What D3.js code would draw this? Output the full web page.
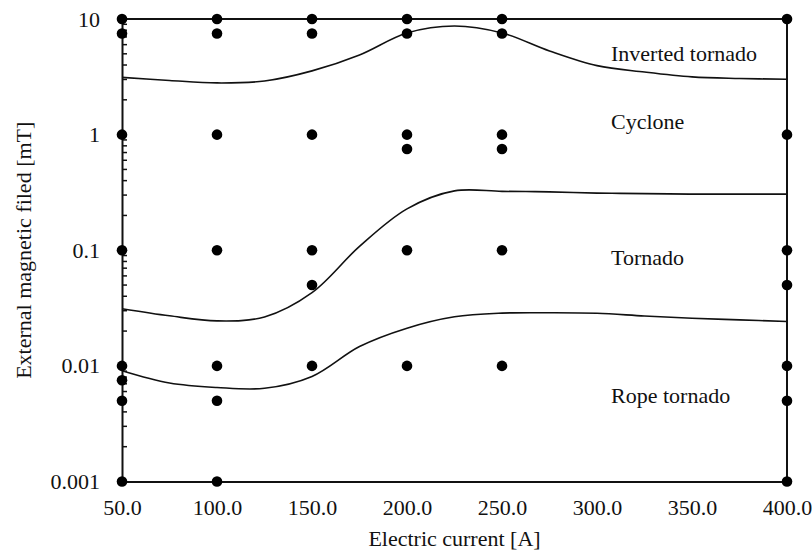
<!DOCTYPE html>
<html>
<head>
<meta charset="utf-8">
<script src="https://cdn.jsdelivr.net/npm/d3@7/dist/d3.min.js"></script>
<style>
  html, body { margin: 0; padding: 0; background: #fff; }
  svg { display: block; }
</style>
</head>
<body>
<svg id="chart" width="812" height="552"></svg>
<script>
// Electric current levels (A) used in the experiments
const currents = [50, 100, 150, 200, 250, 400];
const xTickValues = [50, 100, 150, 200, 250, 300, 350, 400];
const yTickValues = [0.001, 0.01, 0.1, 1, 10];

// Observed external magnetic field settings (mT) at each current
const fieldAt50 = [10, 7.5, 1, 0.1, 0.01, 0.0075, 0.005, 0.001];
const fieldAt100 = [10, 7.5, 1, 0.1, 0.01, 0.005, 0.001];
const fieldAt150 = [10, 7.5, 1, 0.1, 0.05, 0.01];
const fieldAt200 = [10, 7.5, 1, 0.75, 0.1, 0.01];
const fieldAt250 = [10, 7.5, 1, 0.75, 0.1, 0.01];
const fieldAt400 = [10, 1, 0.1, 0.05, 0.01, 0.005, 0.001];

// Regime boundaries sampled along the current axis
const boundaryCurrent = [50, 75, 100, 125, 150, 175, 200, 225, 250, 275, 300, 325, 350, 375, 400];
const invertedCycloneBoundary = [3.13, 2.94, 2.80, 2.91, 3.56, 4.89, 7.57, 8.7, 7.57, 5.29, 3.95, 3.48, 3.16, 3.06, 3.01];
const cycloneTornadoBoundary = [0.0312, 0.0271, 0.0245, 0.0265, 0.043, 0.108, 0.228, 0.326, 0.323, 0.32, 0.312, 0.309, 0.306, 0.306, 0.306];
const tornadoRopeBoundary = [0.00907, 0.0071, 0.0065, 0.0064, 0.0081, 0.0147, 0.0212, 0.0266, 0.0286, 0.0288, 0.0285, 0.027, 0.0258, 0.025, 0.0242];

// Regime labels
const regimeNames = ["Inverted tornado", "Cyclone", "Tornado", "Rope tornado"];
const regimeFields = [4.98, 1.28, 0.086, 0.00553];

const serif = '"Liberation Serif", "Times New Roman", Tinos, serif';
const fontSize = 22;
const ink = "#111";

const svg = d3.select("#chart");
const plotLeft = 122, plotRight = 787, plotTop = 19, plotBottom = 481.5;

const x = d3.scaleLinear().domain([50, 400]).range([plotLeft, plotRight]);
const y = d3.scaleLog().domain([0.001, 10]).range([plotBottom, plotTop]);

// Frame (top and right edges)
const frame = svg.append("g");
frame.append("line").attr("x1", plotLeft).attr("x2", plotRight).attr("y1", plotTop).attr("y2", plotTop);
frame.append("line").attr("x1", plotRight).attr("x2", plotRight).attr("y1", plotTop).attr("y2", plotBottom);
frame.selectAll("line").attr("stroke", ink).attr("stroke-width", 2);

// Y axis: log scale with inward minor ticks
const minorTicks = y.ticks().filter(v => yTickValues.indexOf(v) < 0);
const yAxis = d3.axisLeft(y).tickValues(yTickValues).tickFormat(d3.format("~g")).tickSize(0).tickPadding(22);
const yg = svg.append("g").attr("transform", `translate(${plotLeft},0)`).call(yAxis);
yg.attr("font-family", serif).attr("font-size", fontSize);
yg.select(".domain").attr("stroke", ink).attr("stroke-width", 2);
yg.selectAll("text").attr("fill", ink);
yg.selectAll(".minor").data(minorTicks).join("line")
  .attr("class", "minor")
  .attr("x1", 0).attr("x2", 5)
  .attr("y1", d => y(d)).attr("y2", d => y(d))
  .attr("stroke", ink).attr("stroke-width", 1.5);

// X axis without tick marks
const xAxis = d3.axisBottom(x).tickValues(xTickValues).tickFormat(d3.format(".1f")).tickSize(0).tickPadding(18);
const xg = svg.append("g").attr("transform", `translate(0,${plotBottom})`).call(xAxis);
xg.attr("font-family", serif).attr("font-size", fontSize);
xg.select(".domain").attr("stroke", ink).attr("stroke-width", 2);
xg.selectAll("text").attr("fill", ink);

// Axis titles
svg.append("text")
  .attr("x", (plotLeft + plotRight) / 2).attr("y", 546)
  .attr("text-anchor", "middle")
  .attr("font-family", serif).attr("font-size", fontSize).attr("fill", ink)
  .text("Electric current [A]");
svg.append("text")
  .attr("transform", `translate(31,${(plotTop + plotBottom) / 2}) rotate(-90)`)
  .attr("text-anchor", "middle")
  .attr("font-family", serif).attr("font-size", fontSize).attr("fill", ink)
  .text("External magnetic filed [mT]");

// Boundary curves between regimes
const line = d3.line()
  .x((d, i) => x(boundaryCurrent[i]))
  .y(d => y(d))
  .curve(d3.curveCatmullRom.alpha(0.5));
[invertedCycloneBoundary, cycloneTornadoBoundary, tornadoRopeBoundary].forEach(b => {
  svg.append("path").attr("d", line(b))
    .attr("fill", "none").attr("stroke", ink).attr("stroke-width", 1.6);
});

// Observation points
const fieldSets = [fieldAt50, fieldAt100, fieldAt150, fieldAt200, fieldAt250, fieldAt400];
const points = [];
currents.forEach((c, i) => fieldSets[i].forEach(f => points.push({ current: c, field: f })));
svg.append("g").selectAll("circle").data(points).join("circle")
  .attr("cx", d => x(d.current))
  .attr("cy", d => y(d.field))
  .attr("r", 5.3)
  .attr("fill", "#000");

// Regime labels
svg.append("g").attr("font-family", serif).attr("font-size", fontSize).attr("fill", ink)
  .selectAll("text").data(regimeNames).join("text")
  .attr("x", 611)
  .attr("y", (d, i) => y(regimeFields[i]))
  .attr("dy", "0.32em")
  .text(d => d);
</script>
</body>
</html>
